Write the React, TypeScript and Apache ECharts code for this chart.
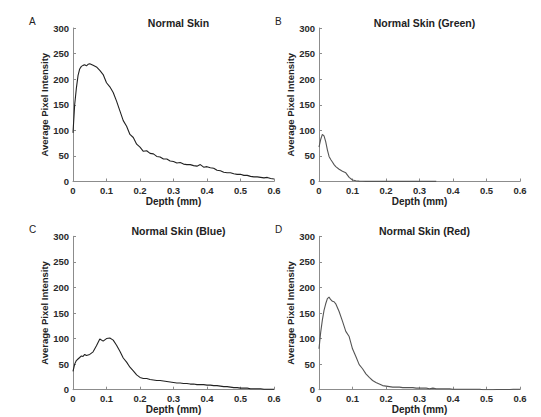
import { useEffect, useRef } from 'react';
import * as echarts from 'echarts';

const depth = [
  0, 0.005, 0.01, 0.015, 0.02, 0.025, 0.03, 0.035, 0.04, 0.045, 0.05,
  0.06, 0.07, 0.08, 0.09, 0.1, 0.11, 0.12, 0.13, 0.14, 0.15, 0.16, 0.17, 0.18, 0.19, 0.2,
  0.21, 0.22, 0.23, 0.24, 0.25, 0.26, 0.27, 0.28, 0.29, 0.3, 0.31, 0.32, 0.33, 0.34, 0.35,
  0.36, 0.37, 0.38, 0.39, 0.4, 0.41, 0.42, 0.43, 0.44, 0.45, 0.46, 0.47, 0.48, 0.49, 0.5,
  0.51, 0.52, 0.53, 0.54, 0.55, 0.56, 0.57, 0.58, 0.59, 0.6,
];

const normalSkin = [
  95, 150, 182, 207, 220, 225, 227, 228, 226, 229, 230,
  227, 224, 217, 209, 193, 185, 174, 157, 138, 119, 108, 92, 86, 73, 67,
  59, 60, 55, 54, 49, 48, 44, 44, 40, 39, 36, 37, 34, 33, 33,
  31, 30, 33, 28, 29, 27, 26, 22, 21, 18, 17, 17, 15, 14, 14,
  12, 12, 10, 9, 9, 8, 7, 8, 6, 5,
];

const greenSkin = [
  67, 82, 92, 89, 78, 62, 49, 43, 38, 33, 29,
  24, 20, 17, 8, 3, 1.5, 0.8, 0.4, 0.3, 0.2, 0.2, 0.2, 0.2, 0.2, 0.2,
  0.2, 0.2, 0.2, 0.2, 0.2, 0.2, 0.2, 0.2, 0.2, 0.2, 0.2, 0.2, 0.2, 0.2, 0.2,
];

const blueSkin = [
  36, 50, 57, 60, 63, 66, 65, 69, 67, 68, 69,
  74, 86, 99, 95, 100, 101, 97, 87, 75, 62, 54, 44, 37, 29, 24,
  22, 22, 20, 19, 18, 18, 17, 16, 15, 14, 13, 13, 12, 12, 11,
  11, 10, 10, 10, 9, 9, 8, 8, 7, 6, 6, 5, 4, 4, 3,
  3, 3, 2, 2, 2, 2, 1, 1, 1, 1,
];

const redSkin = [
  80, 112, 136, 155, 168, 178, 181, 176, 173, 172, 168,
  153, 134, 114, 104, 80, 65, 49, 41, 31, 24, 18, 14, 11, 8, 7,
  6, 5, 5, 5, 4, 4, 4, 4, 3, 3, 3, 3, 2, 3, 2,
  2, 2, 2, 2, 1, 1, 1, 1, 1, 1, 1, 1, 1, 0, 0,
  0, 0, 0.5, 0.5, 0.5, 0.5, 0.5, 1, 1, 1,
];

const panels = [
  { letter: 'A', title: 'Normal Skin', values: normalSkin, color: '#222222' },
  { letter: 'B', title: 'Normal Skin (Green)', values: greenSkin, color: '#555555' },
  { letter: 'C', title: 'Normal Skin (Blue)', values: blueSkin, color: '#222222' },
  { letter: 'D', title: 'Normal Skin (Red)', values: redSkin, color: '#555555' },
];

const grids = [
  { left: 73, top: 28, width: 201, height: 153.5 },
  { left: 319, top: 28, width: 201, height: 153.5 },
  { left: 73, top: 236.3, width: 201, height: 153.4 },
  { left: 319, top: 236.3, width: 201, height: 153.4 },
];

const FONT = 'Liberation Sans, Arial, Helvetica, sans-serif';
const AXIS_GRAY = '#8c8c8c';

export default function App() {
  const chartRef = useRef<HTMLDivElement>(null);

  useEffect(() => {
    if (!chartRef.current) return;
    const chart = echarts.init(chartRef.current, null, { renderer: 'svg' });

    const option: echarts.EChartsOption = {
      animation: false,
      backgroundColor: '#ffffff',
      textStyle: { fontFamily: FONT },
      title: panels.map((p, i) => ({
        text: p.title,
        left: grids[i].left + grids[i].width / 2,
        top: grids[i].top - 15.5,
        textAlign: 'center',
        textStyle: { fontSize: 10.5, fontWeight: 'bold', color: '#222', fontFamily: FONT },
      })),
      grid: grids.map((g) => ({ ...g, containLabel: false })),
      xAxis: panels.map((_, i) => ({
        type: 'value',
        gridIndex: i,
        min: 0,
        max: 0.6,
        interval: 0.1,
        name: 'Depth (mm)',
        nameLocation: 'middle',
        nameGap: 15,
        nameTextStyle: { fontSize: 10, fontWeight: 'bold', color: '#222', fontFamily: FONT },
        axisLine: { show: true, lineStyle: { color: AXIS_GRAY, width: 1 } },
        axisTick: { show: true, inside: true, length: 3, lineStyle: { color: AXIS_GRAY } },
        axisLabel: { fontSize: 9.5, fontWeight: 'bold', color: '#2a2a2a', margin: 4, fontFamily: FONT },
        splitLine: { show: false },
      })),
      yAxis: panels.map((_, i) => ({
        type: 'value',
        gridIndex: i,
        min: 0,
        max: 300,
        interval: 50,
        name: 'Average Pixel Intensity',
        nameLocation: 'middle',
        nameGap: 21,
        nameRotate: 90,
        nameTextStyle: { fontSize: 9.5, fontWeight: 'bold', color: '#222', fontFamily: FONT },
        axisLine: { show: true, lineStyle: { color: AXIS_GRAY, width: 1 } },
        axisTick: { show: true, inside: true, length: 3, lineStyle: { color: AXIS_GRAY } },
        axisLabel: { fontSize: 9.5, fontWeight: 'bold', color: '#2a2a2a', margin: 4, fontFamily: FONT },
        splitLine: { show: false },
      })),
      series: panels.map((p, i) => ({
        type: 'line',
        xAxisIndex: i,
        yAxisIndex: i,
        data: p.values.map((v, j) => [depth[j], v]),
        showSymbol: false,
        symbol: 'none',
        lineStyle: { color: p.color, width: 1.1 },
        silent: true,
      })),
      graphic: panels.map((p, i) => ({
        type: 'text',
        left: grids[i].left - 44,
        top: grids[i].top - 11.5,
        style: { text: p.letter, fontSize: 10, fill: '#222', fontFamily: FONT },
      })),
    };

    chart.setOption(option);
    return () => {
      chart.dispose();
    };
  }, []);

  return (
    <div
      ref={chartRef}
      style={{ position: 'absolute', left: 0, top: 0, width: 541, height: 417 }}
    />
  );
}
